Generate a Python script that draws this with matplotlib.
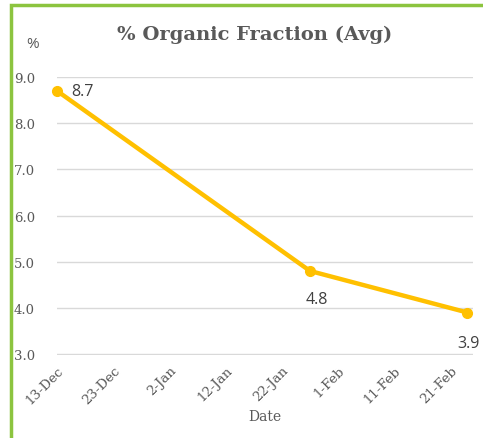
import numpy as np
import matplotlib.pyplot as plt
import matplotlib.dates as mdates
from matplotlib.patches import Rectangle

# data
dates = np.array(['2019-12-13', '2020-01-27', '2020-02-24'], dtype='datetime64[D]')
values = [8.7, 4.8, 3.9]
tick_dates = np.arange(np.datetime64('2019-12-13'), np.datetime64('2020-02-25'), 10)
label_offsets = [(10, 0), (5, -20), (1, -22)]

gray = '#595959'
gold = '#FFC000'

fig = plt.figure(figsize=(4.83, 4.39), dpi=100)
ax = fig.add_axes([57 / 483, 1 - 356 / 439, (473 - 57) / 483, (356 - 78) / 439])

ax.plot(dates, values, color=gold, lw=3.2, marker='o', ms=7, solid_capstyle='round', zorder=3, clip_on=False)

for d, v, off in zip(dates, values, label_offsets):
    ax.annotate(f'{v:.1f}', (d, v), xytext=off, textcoords='offset points',
                ha='left' if off[0] > 5 else 'center', va='center',
                fontsize=11.5, color='#404040', family='Open Sans', annotation_clip=False)

ax.set_ylim(2.98, 9)
ax.set_yticks(np.arange(3, 9.1, 1))
ax.yaxis.set_major_formatter(plt.FormatStrFormatter('%.1f'))
ax.set_xlim(np.datetime64('2019-12-13'), np.datetime64('2019-12-13') + np.timedelta64(74, 'D'))
ax.set_xticks(tick_dates)
ax.xaxis.set_major_formatter(mdates.DateFormatter('%-d-%b'))

ax.grid(axis='y', color='#D9D9D9', lw=1)
ax.set_axisbelow(True)
for s in ax.spines.values():
    s.set_visible(False)
ax.tick_params(length=0, colors=gray, labelsize=9.5)
for lbl in ax.get_xticklabels():
    lbl.set_rotation(45)
    lbl.set_ha('right')
    lbl.set_rotation_mode('anchor')
    lbl.set_family('DejaVu Serif')
for lbl in ax.get_yticklabels():
    lbl.set_family('DejaVu Serif')
ax.tick_params(axis='y', pad=16)
ax.tick_params(axis='x', pad=6)

ax.set_xlabel('Date', family='DejaVu Serif', fontsize=10, color=gray, labelpad=2)
fig.text(255 / 483, 1 - 35 / 439, '% Organic Fraction (Avg)', ha='center', va='center',
         fontsize=14, fontweight='bold', family='DejaVu Serif', color=gray)
fig.text(33 / 483, 1 - 44 / 439, '%', ha='center', va='center', fontsize=11,
         family='Open Sans', color=gray)

# green chart border (right/bottom cut off)
fig.patches.append(Rectangle((11 / 483, -0.1), 1.2, 1 - 6 / 439 + 0.1, transform=fig.transFigure,
                             fill=False, ec='#8CC43F', lw=2.5))

fig.savefig('out.png', dpi=100)
